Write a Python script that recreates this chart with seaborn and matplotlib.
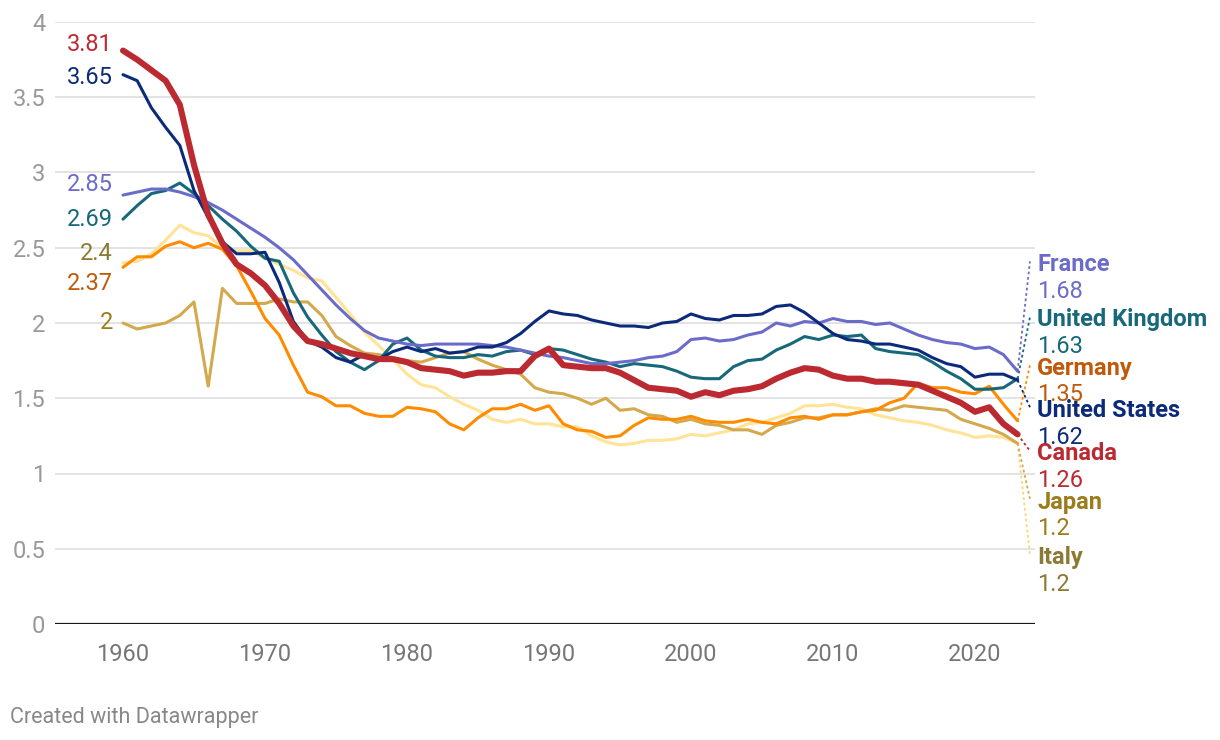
import numpy as np
import pandas as pd
import matplotlib
matplotlib.use("Agg")
import matplotlib.pyplot as plt
import seaborn as sns

years = list(range(1960, 2024))

canada = [3.81, 3.75, 3.68, 3.61, 3.45, 3.05, 2.72, 2.53, 2.39, 2.33,
          2.25, 2.13, 1.98, 1.88, 1.86, 1.83, 1.80, 1.78, 1.76, 1.76,
          1.74, 1.70, 1.69, 1.68, 1.65, 1.67, 1.67, 1.68, 1.68, 1.78,
          1.83, 1.72, 1.71, 1.70, 1.70, 1.67, 1.62, 1.57, 1.56, 1.55,
          1.51, 1.54, 1.52, 1.55, 1.56, 1.58, 1.63, 1.67, 1.70, 1.69,
          1.65, 1.63, 1.63, 1.61, 1.61, 1.60, 1.59, 1.55, 1.51, 1.47,
          1.41, 1.44, 1.33, 1.26]
usa = [3.65, 3.61, 3.43, 3.30, 3.18, 2.88, 2.70, 2.54, 2.46, 2.46,
       2.47, 2.27, 2.01, 1.88, 1.84, 1.77, 1.74, 1.79, 1.76, 1.81,
       1.84, 1.81, 1.83, 1.80, 1.81, 1.84, 1.84, 1.87, 1.93, 2.01,
       2.08, 2.06, 2.05, 2.02, 2.00, 1.98, 1.98, 1.97, 2.00, 2.01,
       2.06, 2.03, 2.02, 2.05, 2.05, 2.06, 2.11, 2.12, 2.07, 2.00,
       1.93, 1.89, 1.88, 1.86, 1.86, 1.84, 1.82, 1.77, 1.73, 1.71,
       1.64, 1.66, 1.66, 1.62]
france = [2.85, 2.87, 2.89, 2.89, 2.87, 2.84, 2.80, 2.75, 2.69, 2.63,
          2.57, 2.50, 2.42, 2.32, 2.22, 2.12, 2.03, 1.95, 1.90, 1.88,
          1.86, 1.85, 1.86, 1.86, 1.86, 1.86, 1.85, 1.84, 1.82, 1.80,
          1.78, 1.77, 1.75, 1.73, 1.73, 1.74, 1.75, 1.77, 1.78, 1.81,
          1.89, 1.90, 1.88, 1.89, 1.92, 1.94, 2.00, 1.98, 2.01, 2.00,
          2.03, 2.01, 2.01, 1.99, 2.00, 1.96, 1.92, 1.89, 1.87, 1.86,
          1.83, 1.84, 1.79, 1.68]
uk = [2.69, 2.78, 2.86, 2.88, 2.93, 2.86, 2.78, 2.69, 2.61, 2.51,
      2.43, 2.41, 2.20, 2.04, 1.92, 1.81, 1.74, 1.69, 1.75, 1.86,
      1.90, 1.82, 1.78, 1.77, 1.77, 1.79, 1.78, 1.81, 1.82, 1.79,
      1.83, 1.82, 1.79, 1.76, 1.74, 1.71, 1.73, 1.72, 1.71, 1.68,
      1.64, 1.63, 1.63, 1.71, 1.75, 1.76, 1.82, 1.86, 1.91, 1.89,
      1.92, 1.91, 1.92, 1.83, 1.81, 1.80, 1.79, 1.74, 1.68, 1.63,
      1.56, 1.56, 1.57, 1.63]
germany = [2.37, 2.44, 2.44, 2.51, 2.54, 2.50, 2.53, 2.49, 2.38, 2.21,
           2.03, 1.92, 1.72, 1.54, 1.51, 1.45, 1.45, 1.40, 1.38, 1.38,
           1.44, 1.43, 1.41, 1.33, 1.29, 1.37, 1.43, 1.43, 1.46, 1.42,
           1.45, 1.33, 1.29, 1.28, 1.24, 1.25, 1.32, 1.37, 1.36, 1.36,
           1.38, 1.35, 1.34, 1.34, 1.36, 1.34, 1.33, 1.37, 1.38, 1.36,
           1.39, 1.39, 1.41, 1.42, 1.47, 1.50, 1.60, 1.57, 1.57, 1.54,
           1.53, 1.58, 1.46, 1.35]
japan = [2.00, 1.96, 1.98, 2.00, 2.05, 2.14, 1.58, 2.23, 2.13, 2.13,
         2.13, 2.16, 2.14, 2.14, 2.05, 1.91, 1.85, 1.80, 1.79, 1.77,
         1.75, 1.74, 1.77, 1.80, 1.81, 1.76, 1.72, 1.69, 1.66, 1.57,
         1.54, 1.53, 1.50, 1.46, 1.50, 1.42, 1.43, 1.39, 1.38, 1.34,
         1.36, 1.33, 1.32, 1.29, 1.29, 1.26, 1.32, 1.34, 1.37, 1.37,
         1.39, 1.39, 1.41, 1.43, 1.42, 1.45, 1.44, 1.43, 1.42, 1.36,
         1.33, 1.30, 1.26, 1.20]
italy = [2.40, 2.41, 2.46, 2.55, 2.65, 2.60, 2.58, 2.50, 2.48, 2.48,
         2.43, 2.39, 2.35, 2.30, 2.28, 2.17, 2.06, 1.94, 1.85, 1.76,
         1.66, 1.59, 1.57, 1.51, 1.46, 1.42, 1.36, 1.34, 1.36, 1.33,
         1.33, 1.31, 1.31, 1.25, 1.21, 1.19, 1.20, 1.22, 1.22, 1.23,
         1.26, 1.25, 1.27, 1.29, 1.33, 1.34, 1.37, 1.40, 1.45, 1.45,
         1.46, 1.44, 1.43, 1.39, 1.37, 1.35, 1.34, 1.32, 1.29, 1.27,
         1.24, 1.25, 1.24, 1.20]

countries = ["Italy", "Japan", "Germany", "United Kingdom", "France", "United States", "Canada"]
series = {"Canada": canada, "United States": usa, "France": france,
          "United Kingdom": uk, "Germany": germany, "Japan": japan, "Italy": italy}

line_colors = {"Canada": "#bc2a31", "United States": "#0b2a7a", "France": "#6b6cc9",
               "United Kingdom": "#17687a", "Germany": "#ff8c00", "Japan": "#d4a94e",
               "Italy": "#ffe396"}
text_colors = {"Canada": "#bc2a31", "United States": "#0b2a7a", "France": "#6b6cc9",
               "United Kingdom": "#17687a", "Germany": "#c05a0a", "Japan": "#9b7c1c",
               "Italy": "#8c7a34"}
widths = {c: 2.2 for c in countries}
widths["Canada"] = 4.4

df = pd.DataFrame([(c, y, v) for c in countries for y, v in zip(years, series[c])],
                  columns=["country", "year", "tfr"])

# label layout (data units)
left_label_y = {"Canada": 3.85, "United States": 3.63, "France": 2.92, "United Kingdom": 2.69,
                "Italy": 2.46, "Germany": 2.26, "Japan": 2.00}
right_label_y = {"France": 2.39, "United Kingdom": 2.02, "Germany": 1.70, "United States": 1.42,
                 "Canada": 1.13, "Japan": 0.81, "Italy": 0.44}

sns.set_theme(style="white")
plt.rcParams["font.family"] = ["Roboto", "DejaVu Sans"]

fig = plt.figure(figsize=(12.2, 7.4), dpi=100)
ax = fig.add_axes([55 / 1220, 116 / 740, 980 / 1220, 602 / 740])

for c in countries:
    sns.lineplot(data=df[df.country == c], x="year", y="tfr", color=line_colors[c],
                 linewidth=widths[c], ax=ax, legend=False, solid_capstyle="round",
                 solid_joinstyle="round", zorder=3)

x0 = 1960 - 68 / 14.2
x1 = 1960 + 912 / 14.2
ax.set_xlim(x0, x1)
ax.set_ylim(0, 4)
ax.set_yticks(np.arange(0, 4.01, 0.5))
ax.set_yticklabels(["0", "0.5", "1", "1.5", "2", "2.5", "3", "3.5", "4"])
ax.set_xticks(range(1960, 2021, 10))
ax.set_xticklabels([str(y) for y in range(1960, 2021, 10)])
ax.tick_params(axis="both", length=0, labelsize=17, colors="#999999")
ax.tick_params(axis="y", pad=7)
ax.tick_params(axis="x", pad=14)
for lbl in ax.get_xticklabels():
    lbl.set_color("#777777")
ax.set_xlabel("")
ax.set_ylabel("")
for s in ax.spines.values():
    s.set_visible(False)
for v in np.arange(0.5, 4.01, 0.5):
    ax.axhline(v, color="#e3e3e3", linewidth=1.4, zorder=1)
ax.axhline(0, color="#1a1a1a", linewidth=1.6, zorder=2)

# left labels
xll = 1960 - 10 / 14.2
for c in countries:
    v = series[c][0]
    ax.text(xll, left_label_y[c], f"{v:g}", ha="right", va="center", fontsize=17,
            color=text_colors[c])

# right labels with dotted connectors
xl = 1960 + (1037 - 123) / 14.2
xc = 1960 + (1030 - 123) / 14.2
for c in countries:
    v = series[c][-1]
    ty = right_label_y[c]
    ax.plot([years[-1], xc], [v, ty + 0.02], linestyle=(0, (1.5, 1.5)), linewidth=1.3,
            color=line_colors[c] if c != "Italy" else "#f5d77a", clip_on=False, zorder=2)
    ax.text(xl, ty, c, ha="left", va="center", fontsize=17, fontweight="bold",
            color=text_colors[c], clip_on=False)
    ax.text(xl, ty - 0.178, f"{v:g}", ha="left", va="center", fontsize=17,
            color=text_colors[c], clip_on=False)

fig.text(10 / 1220, 1 - 717 / 740, "Created with Datawrapper", ha="left", va="center",
         fontsize=15.5, color="#888888")

fig.savefig("out.png", dpi=100, facecolor="white")
